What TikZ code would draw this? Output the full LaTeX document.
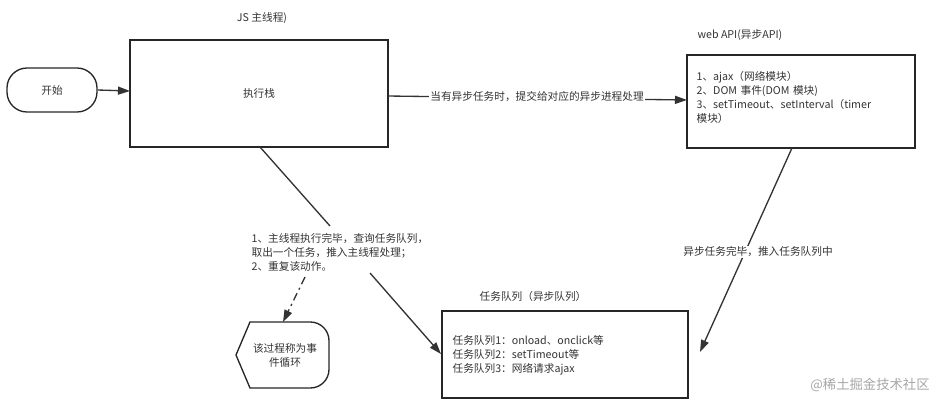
\documentclass[tikz,border=0pt]{standalone}
\usepackage{fontspec}
\setmainfont{Noto Sans CJK SC}
\usetikzlibrary{arrows.meta}
\begin{document}
\begin{tikzpicture}[x=0.75pt,y=-0.75pt,
 box/.style={draw=black!85,line width=1pt},
 txt/.style={font=\fontsize{8}{10.5}\selectfont,text=black!80,inner sep=1pt},
 arr/.style={draw=black!80,line width=1pt,-{Triangle[length=9pt,width=6pt]}},
 ln/.style={draw=black!80,line width=1pt}]
\useasboundingbox (0,0) rectangle (951,404);
\node[box,rounded corners=15pt,minimum width=90*0.75pt,minimum height=44*0.75pt,txt] (start) at (52,90) {开始};
\draw[box] (130,40) rectangle (388,147);
\node[txt] (stack) at (259,93) {执行栈};
\coordinate (stackL) at (130,91);
\coordinate (stackR) at (388,96);
\coordinate (stackB) at (260,147);
\node[txt] (jst) at (262,18) {JS 主线程)};
\draw[box] (687,55) rectangle (915,148);
\coordinate (webL) at (687,100);
\coordinate (webB) at (792,148);
\node[txt,anchor=west] (webt) at (696,35) {web API(异步API)};
\node[txt,anchor=north west,align=left,text width=210*0.75pt] (webc) at (695,70) {1、ajax（网络模块）\\2、DOM 事件(DOM 模块)\\3、setTimeout、setInterval（timer 模块）};
\draw[box] (442,311) rectangle (688,398);
\coordinate (qL) at (441,354);
\coordinate (qR) at (700,352);
\node[txt] (qt) at (533,296) {任务队列（异步队列）};
\node[txt,anchor=west,align=left] (qc) at (451,355) {任务队列1：onload、onclick等\\任务队列2：setTimeout等\\任务队列3：网络请求ajax};
\draw[arr] (start.east) -- (stackL);
\draw[arr] (stackR) -- (webL);
\node[txt,fill=white] (l1) at (537,97) {当有异步任务时，提交给对应的异步进程处理};
\draw[arr] (webB) -- (qR);
\node[txt,fill=white] (l2) at (758,252) {异步任务完毕，推入任务队列中};
\node[txt,anchor=west,align=left] (l3) at (250,252) {1、主线程执行完毕，查询任务队列，\\取出一个任务，推入主线程处理；\\2、重复该动作。};
\draw[ln] (stackB) -- (330,226);
\draw[arr] (370,273) -- (qL);
\draw[box] (250,322) [rounded corners=14pt] -- (329,322) -- (329,388) [sharp corners] -- (250,388) -- (236,355) -- cycle;
\node[txt,align=center] (loop) at (285,355) {该过程称为事\\件循环};
\draw[arr,dash pattern=on 6pt off 3pt on 1.5pt off 3pt] (305,277) -- (283,322);
\node[font=\fontsize{10}{12}\selectfont,text=black!35] (wm) at (870,385) {@稀土掘金技术社区};
\end{tikzpicture}
\end{document}
